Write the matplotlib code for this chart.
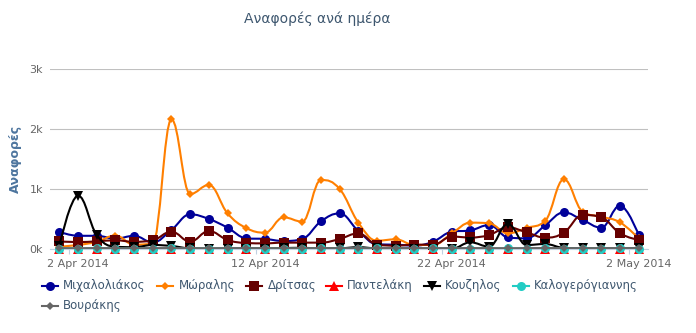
import numpy as np
import matplotlib
matplotlib.use("Agg")
import matplotlib.pyplot as plt
from matplotlib.path import Path
from matplotlib.patches import PathPatch
from matplotlib.lines import Line2D

# Δεδομενα: αναφορες ανα ημερα, 1 Apr 2014 - 2 May 2014
dates = ["1 Apr", "2 Apr", "3 Apr", "4 Apr", "5 Apr", "6 Apr", "7 Apr", "8 Apr",
         "9 Apr", "10 Apr", "11 Apr", "12 Apr", "13 Apr", "14 Apr", "15 Apr", "16 Apr",
         "17 Apr", "18 Apr", "19 Apr", "20 Apr", "21 Apr", "22 Apr", "23 Apr", "24 Apr",
         "25 Apr", "26 Apr", "27 Apr", "28 Apr", "29 Apr", "30 Apr", "1 May", "2 May"]

mixaloliakos = [285, 220, 220, 172, 220, 110, 317, 578, 500, 356, 178, 167, 133, 167, 461, 594,
                300, 78, 72, 56, 122, 289, 310, 400, 194, 178, 395, 610, 483, 356, 722, 233]
moralis = [39, 67, 120, 225, 72, 94, 2161, 917, 1067, 594, 350, 272, 528, 456, 1150, 1000,
           439, 139, 161, 67, 67, 261, 439, 428, 261, 352, 470, 1161, 622, 539, 444, 178]
dritsas = [128, 115, 128, 145, 120, 145, 289, 122, 300, 150, 100, 94, 106, 106, 106, 167,
           261, 72, 56, 72, 72, 206, 192, 233, 361, 278, 189, 272, 567, 528, 261, 150]
pantelaki = [3, 2, 4, 2, 3, 2, 5, 3, 2, 4, 3, 2, 3, 2, 4, 3,
             2, 5, 3, 2, 3, 2, 4, 3, 2, 3, 2, 4, 3, 2, 3, 2]
kouzilos = [50, 889, 233, 39, 30, 67, 50, 10, 5, 5, 8, 6, 15, 20, 10, 12,
            30, 10, 8, 5, 5, 5, 111, 39, 417, 67, 83, 17, 10, 10, 10, 20]
kalogerogiannis = [8, 7, 9, 8, 7, 8, 9, 8, 7, 8, 9, 8, 7, 8, 9, 8,
                   7, 10, 8, 7, 9, 8, 7, 8, 9, 8, 12, 8, 7, 8, 9, 8]
vourakis = [14, 13, 15, 14, 13, 14, 15, 14, 13, 14, 15, 14, 13, 14, 15, 14,
            13, 14, 15, 14, 13, 14, 15, 14, 13, 14, 16, 14, 13, 14, 15, 14]

onomata = ["Μιχαλολιάκος", "Μώραλης", "Δρίτσας", "Παντελάκη", "Κουζηλος",
           "Καλογερόγιαννης", "Βουράκης"]
seires = [mixaloliakos, moralis, dritsas, pantelaki, kouzilos, kalogerogiannis, vourakis]
xrwmata = ["#000099", "#FF7F00", "#660000", "#FF0000", "#000000", "#22CCC4", "#666666"]
markers = ["o", "D", "s", "^", "v", "o", "D"]
msizes = [6.5, 4.5, 6.5, 6.5, 6.5, 6.5, 4.5]

tick_labels = ["2 Apr 2014", "12 Apr 2014", "22 Apr 2014", "2 May 2014"]
tick_pos = [1, 11, 21, 31]


def spline_path(x, y, smoothing=1.5):
    # καμπυλη τυπου highcharts spline
    n = len(x)
    left = [(x[0], y[0])]
    right = [(x[0], y[0])]
    for i in range(1, n - 1):
        d = smoothing + 1
        lx = (smoothing * x[i] + x[i - 1]) / d
        ly = (smoothing * y[i] + y[i - 1]) / d
        rx = (smoothing * x[i] + x[i + 1]) / d
        ry = (smoothing * y[i] + y[i + 1]) / d
        corr = ((ry - ly) * (rx - x[i])) / (rx - lx) + y[i] - ry
        ly += corr
        ry += corr
        if ly > y[i - 1] and ly > y[i]:
            ly = max(y[i - 1], y[i]); ry = 2 * y[i] - ly
        elif ly < y[i - 1] and ly < y[i]:
            ly = min(y[i - 1], y[i]); ry = 2 * y[i] - ly
        if ry > y[i + 1] and ry > y[i]:
            ry = max(y[i + 1], y[i]); ly = 2 * y[i] - ry
        elif ry < y[i + 1] and ry < y[i]:
            ry = min(y[i + 1], y[i]); ly = 2 * y[i] - ry
        left.append((lx, ly))
        right.append((rx, ry))
    left.append((x[-1], y[-1]))
    right.append((x[-1], y[-1]))
    verts = [(x[0], y[0])]
    codes = [Path.MOVETO]
    for i in range(1, n):
        verts += [right[i - 1], left[i], (x[i], y[i])]
        codes += [Path.CURVE4] * 3
    return Path(verts, codes)


fig = plt.figure(figsize=(6.96, 3.33), dpi=100)
W, H = 696, 333
ax = fig.add_axes([50 / W, (H - 249) / H, 598 / W, 180 / H])

x = np.arange(len(dates))
for k, (s, c, m, ms) in enumerate(zip(seires, xrwmata, markers, msizes)):
    y = np.array(s, dtype=float)
    patch = PathPatch(spline_path(x, y), fill=False, edgecolor=c, lw=1.5,
                      zorder=3 + k * 0.1, capstyle="round", joinstyle="round")
    ax.add_patch(patch)
    ax.plot(x, y, linestyle="none", marker=m, markersize=ms, color=c,
            markeredgewidth=0, zorder=3.05 + k * 0.1, clip_on=False)

ax.set_xlim(-0.5, 31.5)
ax.set_ylim(0, 3000)

for sp in ["top", "right", "left"]:
    ax.spines[sp].set_visible(False)
ax.spines["bottom"].set_color("#C0D0E0")
ax.spines["bottom"].set_linewidth(0.8)

ax.set_yticks([0, 1000, 2000, 3000])
ax.set_yticklabels(["0k", "1k", "2k", "3k"])
ax.yaxis.grid(True, color="#C0C0C0", linewidth=0.8)
ax.set_axisbelow(True)
ax.tick_params(axis="y", length=0, pad=5, labelsize=8, labelcolor="#666666")

ax.set_xticks(tick_pos)
ax.set_xticklabels(tick_labels)
ax.set_xticks([p - 0.5 for p in tick_pos], minor=True)
ax.tick_params(axis="x", which="major", length=0, pad=7, labelsize=8, labelcolor="#666666")
ax.tick_params(axis="x", which="minor", length=3.6, width=0.8, color="#C0D0E0")

fig.text(317 / W, 1 - 19 / H, "Αναφορές ανά ημέρα", ha="center", va="center",
         fontsize=10, color="#3E576F")
fig.text(15 / W, 1 - 159 / H, "Αναφορές", rotation=90, ha="center", va="center",
         fontsize=9, fontweight="bold", color="#4D759E")

# υπομνημα
leg_x = [49.5, 165, 254, 333.6, 431.7, 520.7, 49.5]
leg_y = [285.7] * 6 + [305.7]
for k in range(len(onomata)):
    cx, cy = leg_x[k], leg_y[k]
    fig.add_artist(Line2D([(cx - 8) / W, (cx + 8) / W], [1 - cy / H, 1 - cy / H],
                          color=xrwmata[k], lw=1.5))
    fig.add_artist(Line2D([cx / W], [1 - cy / H], marker=markers[k], markersize=msizes[k],
                          color=xrwmata[k], markeredgewidth=0, linestyle="none"))
    fig.text((cx + 13.5) / W, 1 - cy / H, onomata[k], ha="left", va="center",
             fontsize=8.5, color="#3E576F")

fig.savefig("out.png", dpi=100)
